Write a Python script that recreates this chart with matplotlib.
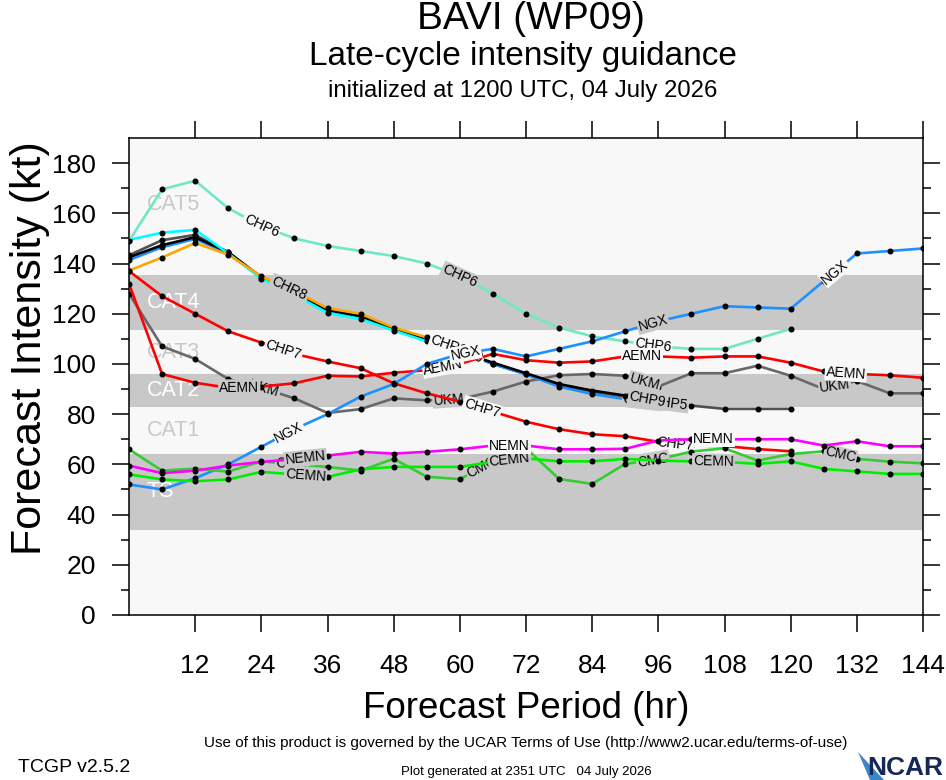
import numpy as np
import matplotlib
matplotlib.use("Agg")
import matplotlib.pyplot as plt
from matplotlib.patches import Polygon

plt.rcParams['font.family'] = ['Liberation Sans', 'DejaVu Sans']

# ---------------- data ----------------
hours = list(range(0, 145, 6))

chp6 = [149, 169.5, 173, 162, 155, 150, 147, 145, 143, 140, 135, 128, 120, 114.5,
        111, 109, 107, 106, 106, 110, 114]
ngx = [52, 50, 54.5, 60, 67, 74, 80, 87, 92, 100, 104, 106, 103, 106, 109, 113,
       117, 120, 123, 122.5, 122, 133, 144, 145, 146]
aemn = [132, 96, 92.5, 90.5, 91, 92.3, 95.3, 95, 96.5, 97.5, 100, 104, 101.5, 100.5,
        101, 103, 103, 102.5, 103, 103, 100.5, 97, 96, 95.5, 94.5]
ukm = [128, 107, 102, 94, 90.5, 86.3, 80.5, 82, 86.3, 85.5, 86, 89, 93, 95.5, 96,
       95.3, 91, 96.3, 96.3, 99.3, 95.3, 90, 93.2, 88.3, 88.3]
chp7 = [137, 127, 120, 113, 108.5, 104, 101, 98.3, 92.3, 88.3, 85, 81, 77, 74, 72,
        71.2, 69, 67.5, 67.3, 66.1, 65.2]
nemn = [59.5, 56.5, 57.5, 59.5, 61, 62, 63.5, 65, 64.3, 65, 66, 67.5, 67.5, 66, 66,
        66.2, 69.5, 70, 70, 70, 70, 67.5, 69.2, 67.2, 67.2]
cemn = [56, 54, 53.3, 54, 57, 56, 55, 58, 59, 59, 59, 61, 62.4, 61.2, 61.2, 62.2,
        61.5, 61.2, 61, 60.2, 61.2, 58.2, 57.2, 56.2, 56.2]
cmc = [66, 57.5, 58.3, 57.1, 61.2, 60, 59, 57.5, 62.2, 55.1, 54.1, 61, 66.4, 54.2,
       52.2, 60.2, 62, 65.1, 66.4, 61.5, 64.1, 65.2, 62.2, 61.1, 60.4]
chr8 = [137.2, 142.4, 148.2, 143.5, 135, 129, 122.2, 120, 114.5, 110.6, 106]
chp8 = [149.4, 152.3, 153.4, 144, 134, 127.5, 120.3, 117.9, 113.3, 109, 105]
chr5 = [141.4, 146.5, 149.8, 144, 134.5, 128.5, 121, 118.5, 114, 109.5, 105, 100,
        95.8, 91, 88, 86, 84.5]
chp9 = [142.5, 147.3, 150.5, 144.5, 134.5, 128.5, 121.5, 119, 114, 109.5, 105,
        100.5, 96.3, 92, 89.4, 87.4, 85]
chp5 = [143.3, 149.3, 151.4, 144.5, 134.5, 128.5, 121.5, 118.9, 114, 109.5, 105,
        100, 96, 91.5, 89, 87, 85, 83.4, 82.1, 82.1, 82.1]

band_names = ['TS', 'CAT1', 'CAT2', 'CAT3', 'CAT4', 'CAT5']
band_lo = [34, 64, 83, 96, 113.5, 135.5]
band_hi = [64, 83, 96, 113.5, 135.5, 190]

xtick_vals = list(range(12, 145, 12))
ytick_vals = list(range(0, 181, 20))

# ---------------- style ----------------
LIGHT = '#f8f8f8'
GRAY = '#c8c8c8'
band_is_gray = [True, False, True, False, True, False]

series = [
    # name, values, color, label hours
    ('UKM', ukm, '#686868', [24.5, 58, 93.5, 128]),
    ('CHP5', chp5, '#505050', [29, 61, 98]),
    ('CHR5', chr5, '#1e90ff', [29, 61, 93]),
    ('CHP9', chp9, '#000000', [29, 61, 94]),
    ('CHP8', chp8, '#00ffff', [29, 58]),
    ('CHR8', chr8, '#ffa500', [29, 58]),
    ('CHP6', chp6, '#70e8c8', [24, 60, 95]),
    ('CHP7', chp7, '#ff0000', [28, 64, 99]),
    ('AEMN', aemn, '#ff0000', [20, 57, 93, 130]),
    ('NGX', ngx, '#1e90ff', [29, 61, 95, 128]),
    ('CMC', cmc, '#33cc33', [29.5, 64, 95, 129]),
    ('CEMN', cemn, '#00ee00', [32, 69, 106]),
    ('NEMN', nemn, '#ff00ff', [32, 69, 106]),
]

W, H = 946, 780
fig = plt.figure(figsize=(W / 100, H / 100), dpi=100)
fig.patch.set_facecolor('white')
ax = fig.add_axes([129 / W, 1 - 615 / H, (923 - 129) / W, (615 - 138) / H])
ax.set_facecolor(LIGHT)
ax.set_xlim(0, 144)
ax.set_ylim(0, 190)

for name, lo, hi, g in zip(band_names, band_lo, band_hi, band_is_gray):
    if g:
        ax.axhspan(lo, hi, color=GRAY, lw=0, zorder=0.5)
    ax.text(3.2, (lo + hi) / 2 if name != 'CAT5' else 163.5, name,
            color='white' if g else '#c8c8c8', fontsize=15.5,
            ha='left', va='center', zorder=1)

ax.set_xticks(xtick_vals)
ax.set_xticklabels([str(v) for v in xtick_vals])
ax.set_yticks(ytick_vals)
ax.set_yticklabels([str(v) for v in ytick_vals])
ax.set_yticks(list(range(10, 190, 20)), minor=True)
ax.tick_params(axis='both', which='major', direction='out', length=12, width=1.1,
               top=True, right=True, labelsize=19)
ax.tick_params(axis='y', which='minor', direction='out', length=5.5, width=1.1,
               left=True, right=True)
ax.tick_params(axis='y', which='major', pad=12)
ax.tick_params(axis='x', which='major', pad=16)
for sp in ax.spines.values():
    sp.set_linewidth(1.1)


def band_color(v):
    for lo, hi, g in zip(band_lo, band_hi, band_is_gray):
        if lo <= v < hi:
            return GRAY if g else LIGHT
    return LIGHT


z = 2.0
for name, vals, color, labh in series:
    xs = hours[:len(vals)]
    ax.plot(xs, vals, color=color, lw=1.9, zorder=z, solid_joinstyle='round')
    ax.plot(xs, vals, 'o', color='black', ms=3.3, zorder=z + 0.1)
    for h in labh:
        y = float(np.interp(h, xs, vals))
        ha_ = max(xs[0], h - 3)
        hb_ = min(xs[-1], h + 3)
        p0 = ax.transData.transform((ha_, np.interp(ha_, xs, vals)))
        p1 = ax.transData.transform((hb_, np.interp(hb_, xs, vals)))
        ang = np.degrees(np.arctan2(p1[1] - p0[1], p1[0] - p0[0]))
        ax.text(h, y, name, rotation=ang, rotation_mode='anchor', ha='center',
                va='center', fontsize=10, color='black', zorder=z + 0.2,
                bbox=dict(boxstyle='square,pad=0.08', fc=band_color(y), ec='none'))
    z += 0.5

# ---------------- titles / texts ----------------
fig.text(531 / W, 1 - 1 / H, 'BAVI (WP09)', ha='center', va='top', fontsize=28)
fig.text(523 / W, 1 - 56 / H, 'Late-cycle intensity guidance', ha='center',
         va='center', fontsize=24)
fig.text(523 / W, 1 - 91 / H, 'initialized at 1200 UTC, 04 July 2026', ha='center',
         va='center', fontsize=17.2)
fig.text(30 / W, 1 - 348 / H, 'Forecast Intensity (kt)', rotation=90, ha='center',
         va='center', fontsize=31)
fig.text(526 / W, 1 - 708 / H, 'Forecast Period (hr)', ha='center', va='center',
         fontsize=26.5)
fig.text(526 / W, 1 - 743 / H,
         'Use of this product is governed by the UCAR Terms of Use (http://www2.ucar.edu/terms-of-use)',
         ha='center', va='center', fontsize=11)
fig.text(18 / W, 1 - 767 / H, 'TCGP v2.5.2', ha='left', va='center', fontsize=14)
fig.text(526 / W, 1 - 772 / H, 'Plot generated at 2351 UTC   04 July 2026',
         ha='center', va='center', fontsize=9.5)
fig.text(943 / W, 1 - 768 / H, 'NCAR', ha='right', va='center', fontsize=19,
         fontweight='bold', color='#16285a')
logo = Polygon([[858 / W, 1 - 752 / H], [884 / W, 1 - 780 / H], [870 / W, 1 - 780 / H]],
               closed=True, transform=fig.transFigure, fc='#3a86c8', ec='none')
fig.patches.append(logo)

fig.savefig('out.png', dpi=100)
